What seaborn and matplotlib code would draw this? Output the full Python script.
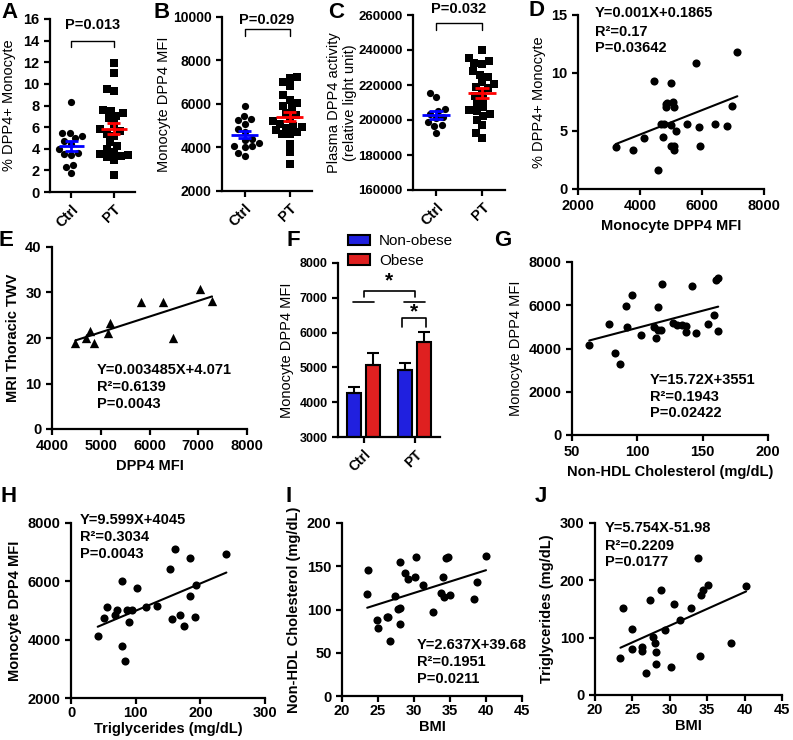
import numpy as np
import pandas as pd
import matplotlib
matplotlib.use("Agg")
import matplotlib.pyplot as plt
import seaborn as sns

# ---------------- data ----------------
groups = ["Ctrl", "PT"]

a_ctrl = [8.3, 5.5, 5.5, 5.2, 5.0, 4.7, 4.4, 4.0, 3.6, 3.5, 3.4, 2.5, 2.3, 1.8]
a_pt = [11.9, 11.0, 9.5, 9.3, 7.6, 7.5, 7.3, 7.0, 6.8, 6.3, 5.8, 5.6, 5.4, 5.2,
        4.6, 4.3, 4.0, 3.7, 3.5, 3.4, 3.3, 3.2, 3.0, 1.6]

b_ctrl = [5900, 5450, 5300, 5250, 5100, 4850, 4700, 4400, 4350, 4200, 4050, 4050,
          4000, 3750, 3600]
b_pt = [7250, 7200, 7000, 6850, 6400, 6200, 6050, 5900, 5800, 5600, 5500, 5300,
        5200, 5100, 5000, 4950, 4900, 4800, 4700, 4600, 4600, 4150, 3800, 3250]

c_ctrl = [215500, 213000, 206500, 205000, 203500, 202000, 201000, 199000, 197000,
          196500, 192500]
c_pt = [240000, 235500, 233500, 232500, 232000, 219000, 228000, 226000, 224500,
        222000, 220500, 218500, 216000, 214000, 212000, 210000, 207500, 205500,
        205000, 203500, 202500, 200000, 197000, 192500, 190000]

d_x = [3215, 3774, 4118, 4452, 4581, 4688, 4742, 4774, 4828, 4849, 4860, 4989, 5011,
       5000, 5065, 5097, 5110, 5090, 5151, 5516, 5796, 5903, 5925, 6430, 6817, 6968, 7140]
d_y = [3.61, 3.32, 4.36, 9.34, 1.66, 5.62, 4.44, 5.62, 7.33, 7.05, 7.45, 9.17, 5.53,
       3.67, 7.54, 3.67, 3.32, 7.05, 5.01, 5.62, 10.89, 5.33, 3.72, 5.62, 5.39, 7.16, 11.83]

e_x = [4479, 4704, 4773, 4855, 5142, 5183, 5832, 6270, 6482, 7029, 7282]
e_y = [18.8, 20.0, 21.5, 18.8, 21.1, 23.2, 27.9, 27.9, 20.0, 30.7, 28.2]

f_groups = ["Ctrl", "PT"]
f_status = ["Non-obese", "Obese"]
f_mean_nonobese = [4260, 4930]
f_mean_obese = [5060, 5730]
f_sem_nonobese = [170, 200]
f_sem_obese = [360, 280]

g_x = [63.2, 78.0, 83.1, 86.9, 91.2, 92.0, 96.3, 102.9, 112.8, 114.1, 115.6, 116.0,
       118.1, 119.2, 127.5, 130.1, 133.9, 137.2, 137.2, 142.0, 144.8, 154.2, 158.8,
       160.1, 161.9, 161.9]
g_y = [4154, 5154, 3815, 3262, 5954, 5000, 6462, 4615, 5000, 4492, 5923, 4877, 4877,
       7000, 5185, 5108, 5108, 5046, 4769, 6877, 4723, 5154, 5538, 7185, 7262, 4800]

h_x = [41.3, 51.7, 55.3, 68.2, 70.8, 78.6, 78.6, 83.7, 86.3, 90.4, 94.1, 101.8, 115.8,
       132.8, 153.5, 156.0, 161.2, 168.0, 174.2, 184.5, 184.5, 192.2, 193.8, 240.3]
h_y = [4114, 4743, 5109, 4857, 5006, 6000, 3794, 3257, 5006, 4594, 5029, 5771, 5109,
       5166, 6423, 4709, 7109, 4857, 4457, 6800, 5509, 4766, 5886, 6937]

i_x = [23.5, 23.6, 24.9, 25.0, 26.2, 26.4, 26.7, 27.3, 27.8, 28.0, 28.1, 28.1, 28.7,
       29.1, 30.1, 30.3, 31.3, 32.7, 34.0, 33.8, 34.2, 34.4, 34.7, 34.95, 38.3, 38.7, 40.0]
i_y = [117.8, 145.2, 87.3, 78.4, 91.9, 91.0, 64.1, 115.8, 100.8, 102.3, 83.4, 154.4,
       142.1, 135.1, 137.1, 160.2, 128.6, 96.9, 137.1, 118.9, 114.3, 159.5, 160.6,
       116.2, 112.4, 131.3, 162.2]

j_x = [23.4, 23.7, 25.0, 25.0, 26.3, 26.3, 26.8, 27.3, 27.8, 28.0, 28.1, 28.1, 28.8,
       29.3, 30.1, 30.5, 31.3, 32.8, 33.8, 34.1, 34.2, 34.5, 35.1, 38.2, 40.2]
j_y = [63.8, 152.6, 114.3, 79.5, 84.2, 77.2, 38.9, 165.4, 101.6, 90.0, 75.4, 53.4,
       182.8, 113.2, 49.3, 159.3, 130.3, 150.9, 239.6, 67.9, 174.1, 182.8, 191.5,
       90.0, 189.8]

# ---------------- style ----------------
sns.set_style("ticks")
plt.rcParams["font.family"] = ["Liberation Sans", "DejaVu Sans"]
plt.rcParams.update({
    "axes.linewidth": 1.6,
    "axes.edgecolor": "black",
    "xtick.major.width": 1.6,
    "ytick.major.width": 1.6,
    "xtick.major.size": 4,
    "ytick.major.size": 4,
    "xtick.color": "black",
    "ytick.color": "black",
    "text.color": "black",
    "axes.labelcolor": "black",
})

W, H = 793, 740
fig = plt.figure(figsize=(W / 100, H / 100), dpi=100)
BLUE = "#0000ff"
RED = "#ff0000"


def add_ax(l, r, t, b):
    return fig.add_axes([l / W, 1 - b / H, (r - l) / W, (b - t) / H])


def ftext(x, y, s, **kw):
    kw.setdefault("ha", "left")
    kw.setdefault("va", "center")
    fig.text(x / W, 1 - y / H, s, **kw)


def set_ticks(ax, xt=None, yt=None, fs=10.5):
    if yt is not None:
        ax.set_yticks(yt)
        ax.set_yticklabels([str(v) for v in yt], fontsize=fs, fontweight="bold")
    if xt is not None:
        ax.set_xticks(xt)
        ax.set_xticklabels([str(v) for v in xt], fontsize=fs, fontweight="bold")


def dotplot(ax, ctrl, pt, ylim, yticks, ylabel, ptext, by0, by1, ty, fs=10.5,
            size=5.2, labelpad=4):
    dfc = pd.DataFrame({"group": "Ctrl", "value": ctrl})
    dfp = pd.DataFrame({"group": "PT", "value": pt})
    sns.swarmplot(data=dfc, x="group", y="value", order=groups, marker="o",
                  color="black", size=size, ax=ax, zorder=2)
    sns.swarmplot(data=dfp, x="group", y="value", order=groups, marker="s",
                  color="black", size=size, ax=ax, zorder=2)
    for i, (vals, col) in enumerate([(ctrl, BLUE), (pt, RED)]):
        m = np.mean(vals)
        se = np.std(vals, ddof=1) / np.sqrt(len(vals))
        ax.hlines(m, i - 0.3, i + 0.3, color=col, lw=2, zorder=5)
        ax.vlines(i, m - se, m + se, color=col, lw=2, zorder=5)
        ax.hlines([m - se, m + se], i - 0.15, i + 0.15, color=col, lw=2, zorder=5)
    ax.set_xlim(-0.5, 1.5)
    ax.set_ylim(*ylim)
    set_ticks(ax, yt=yticks, fs=fs)
    ax.set_xticks([0, 1])
    ax.set_xticklabels(groups, rotation=45, ha="right", rotation_mode="anchor",
                       fontsize=10.5, fontweight="bold")
    ax.set_xlabel("")
    ax.set_ylabel(ylabel, fontsize=10.5, labelpad=labelpad)
    ax.plot([0, 0, 1, 1], [by0, by1, by1, by0], color="black", lw=1, clip_on=False)
    ax.text(0.5, ty, ptext, ha="center", va="center", fontsize=10.5, fontweight="bold")
    sns.despine(ax=ax)


def scat(ax, x, y, xlim, ylim, xt, yt, xlabel, ylabel, marker="o", s=34, fs=10.5,
         xlw="bold", ylw="normal", xpad=4, tickpad=3.5):
    sns.regplot(x=np.array(x), y=np.array(y), ci=None, truncate=True, marker=marker,
                color="black", scatter_kws={"s": s, "linewidths": 0, "alpha": 1},
                line_kws={"lw": 1.5, "color": "black"}, ax=ax)
    ax.set_xlim(*xlim)
    ax.set_ylim(*ylim)
    set_ticks(ax, xt=xt, yt=yt, fs=fs)
    ax.tick_params(axis="x", pad=tickpad)
    ax.set_xlabel(xlabel, fontsize=10.5, fontweight=xlw, labelpad=xpad)
    ax.set_ylabel(ylabel, fontsize=10.5, fontweight=ylw)
    sns.despine(ax=ax)


# ---------------- A ----------------
axA = add_ax(50, 135, 19, 192)
dotplot(axA, a_ctrl, a_pt, (0, 16), list(range(0, 17, 2)), "% DPP4+ Monocyte",
        "P=0.013", 13.4, 13.96, 15.4, labelpad=5)

# ---------------- B ----------------
axB = add_ax(222, 312, 17, 191)
dotplot(axB, b_ctrl, b_pt, (2000, 10000), [2000, 4000, 6000, 8000, 10000],
        "Monocyte DPP4 MFI", "P=0.029", 9126, 9448, 9862, fs=10, labelpad=1)

# ---------------- C ----------------
axC = add_ax(413, 505, 15, 190)
dotplot(axC, c_ctrl, c_pt, (160000, 260000),
        [160000, 180000, 200000, 220000, 240000, 260000],
        "Plasma DPP4 activity\n(relative light unit)", "P=0.032",
        251430, 255430, 263430, fs=9.5, labelpad=1)

# ---------------- D ----------------
axD = add_ax(578, 764, 15, 189)
scat(axD, d_x, d_y, (2000, 8000), (0, 15), [2000, 4000, 6000, 8000], [0, 5, 10, 15],
     "Monocyte DPP4 MFI", "% DPP4+ Monocyte", s=34)
for yy, s in zip([13, 32, 48], ["Y=0.001X+0.1865", "R²=0.17", "P=0.03642"]):
    ftext(595, yy, s, fontsize=10.5, fontweight="bold")

# ---------------- E ----------------
axE = add_ax(52, 247, 247, 429)
scat(axE, e_x, e_y, (4000, 8000), (0, 40), [4000, 5000, 6000, 7000, 8000],
     [0, 10, 20, 30, 40], "DPP4 MFI", "MRI Thoracic TWV", marker="^", s=45, ylw="bold")
for yy, s in zip([370, 387, 404], ["Y=0.003485X+4.071", "R²=0.6139", "P=0.0043"]):
    ftext(97, yy, s, fontsize=10.5, fontweight="bold")

# ---------------- F ----------------
axF = add_ax(338, 440, 263, 437)
f_df = pd.DataFrame({
    "group": f_groups * 2,
    "status": [f_status[0]] * 2 + [f_status[1]] * 2,
    "mean": f_mean_nonobese + f_mean_obese,
})
sns.barplot(data=f_df, x="group", y="mean", hue="status", order=f_groups,
            hue_order=f_status, palette=[BLUE, RED], width=0.76, gap=0.28,
            edgecolor="black", linewidth=1.5, errorbar=None, ax=axF)
for cont, sems in zip(axF.containers, [f_sem_nonobese, f_sem_obese]):
    for bar, se in zip(cont, sems):
        cx = bar.get_x() + bar.get_width() / 2
        axF.errorbar(cx, bar.get_height(), yerr=[[0], [se]], color="black", lw=1.5,
                     capsize=4, capthick=1.5, zorder=5)
axF.set_xlim(-0.5, 1.5)
axF.set_ylim(3000, 8000)
set_ticks(axF, yt=[3000, 4000, 5000, 6000, 7000, 8000], fs=9)
axF.set_xticks([0, 1])
axF.set_xticklabels(f_groups, rotation=45, ha="right", rotation_mode="anchor",
                    fontsize=10, fontweight="bold")
axF.set_xlabel("")
axF.set_ylabel("Monocyte DPP4 MFI", fontsize=10.5)
handles, labels = axF.get_legend_handles_labels()
axF.legend(handles, labels, loc="upper left", bbox_to_anchor=(0.1, 1.165),
           frameon=False, fontsize=11, handlelength=1.4, handleheight=0.7,
           labelspacing=0.35, handletextpad=0.6, borderaxespad=0, borderpad=0)
# significance marks
for c in [0, 1]:
    axF.plot([c - 0.2, c + 0.2], [6880, 6880], color="black", lw=1.2, clip_on=False)
axF.plot([0, 0, 1, 1], [7020, 7200, 7200, 7020], color="black", lw=1.2, clip_on=False)
axF.text(0.5, 7480, "*", ha="center", va="center", fontsize=15, fontweight="bold")
axF.plot([0.76, 0.76, 1.22, 1.22], [6160, 6420, 6420, 6160], color="black", lw=1.2,
         clip_on=False)
axF.text(0.98, 6600, "*", ha="center", va="center", fontsize=15, fontweight="bold")
sns.despine(ax=axF)

# ---------------- G ----------------
axG = add_ax(572, 768, 262, 435)
scat(axG, g_x, g_y, (50, 200), (0, 8000), [50, 100, 150, 200],
     [0, 2000, 4000, 6000, 8000], "Non-HDL Cholesterol (mg/dL)", "Monocyte DPP4 MFI")
for yy, s in zip([380, 397, 413], ["Y=15.72X+3551", "R²=0.1943", "P=0.02422"]):
    ftext(650, yy, s, fontsize=10.5, fontweight="bold")

# ---------------- H ----------------
axH = add_ax(71, 265, 523, 698)
scat(axH, h_x, h_y, (0, 300), (2000, 8000), [0, 100, 200, 300],
     [2000, 4000, 6000, 8000], "Triglycerides (mg/dL)", "Monocyte DPP4 MFI",
     ylw="bold", xpad=1, tickpad=2)
for yy, s in zip([520, 537, 554], ["Y=9.599X+4045", "R²=0.3034", "P=0.0043"]):
    ftext(80, yy, s, fontsize=10.5, fontweight="bold")

# ---------------- I ----------------
axI = add_ax(342, 522, 523, 696)
scat(axI, i_x, i_y, (20, 45), (0, 200), [20, 25, 30, 35, 40, 45],
     [0, 50, 100, 150, 200], "BMI", "Non-HDL Cholesterol (mg/dL)", ylw="bold",
     xpad=1, tickpad=2)
for yy, s in zip([645, 662, 679], ["Y=2.637X+39.68", "R²=0.1951", "P=0.0211"]):
    ftext(417, yy, s, fontsize=10.5, fontweight="bold")

# ---------------- J ----------------
axJ = add_ax(595, 782, 523, 695)
scat(axJ, j_x, j_y, (20, 45), (0, 300), [20, 25, 30, 35, 40, 45],
     [0, 100, 200, 300], "BMI", "Triglycerides (mg/dL)", ylw="bold",
     xpad=1, tickpad=2)
for yy, s in zip([528, 546, 562], ["Y=5.754X-51.98", "R²=0.2209", "P=0.0177"]):
    ftext(605, yy, s, fontsize=10.5, fontweight="bold")

# ---------------- panel letters ----------------
for (x, y), letter in zip([(10, 13), (162, 12), (336, 12), (536, 11), (6, 240),
                           (293, 240), (503, 240), (9, 497), (289, 497), (541, 497)],
                          "ABCDEFGHIJ"):
    ftext(x, y, letter, fontsize=16, fontweight="bold", ha="center")

fig.savefig("out.png", dpi=100)
